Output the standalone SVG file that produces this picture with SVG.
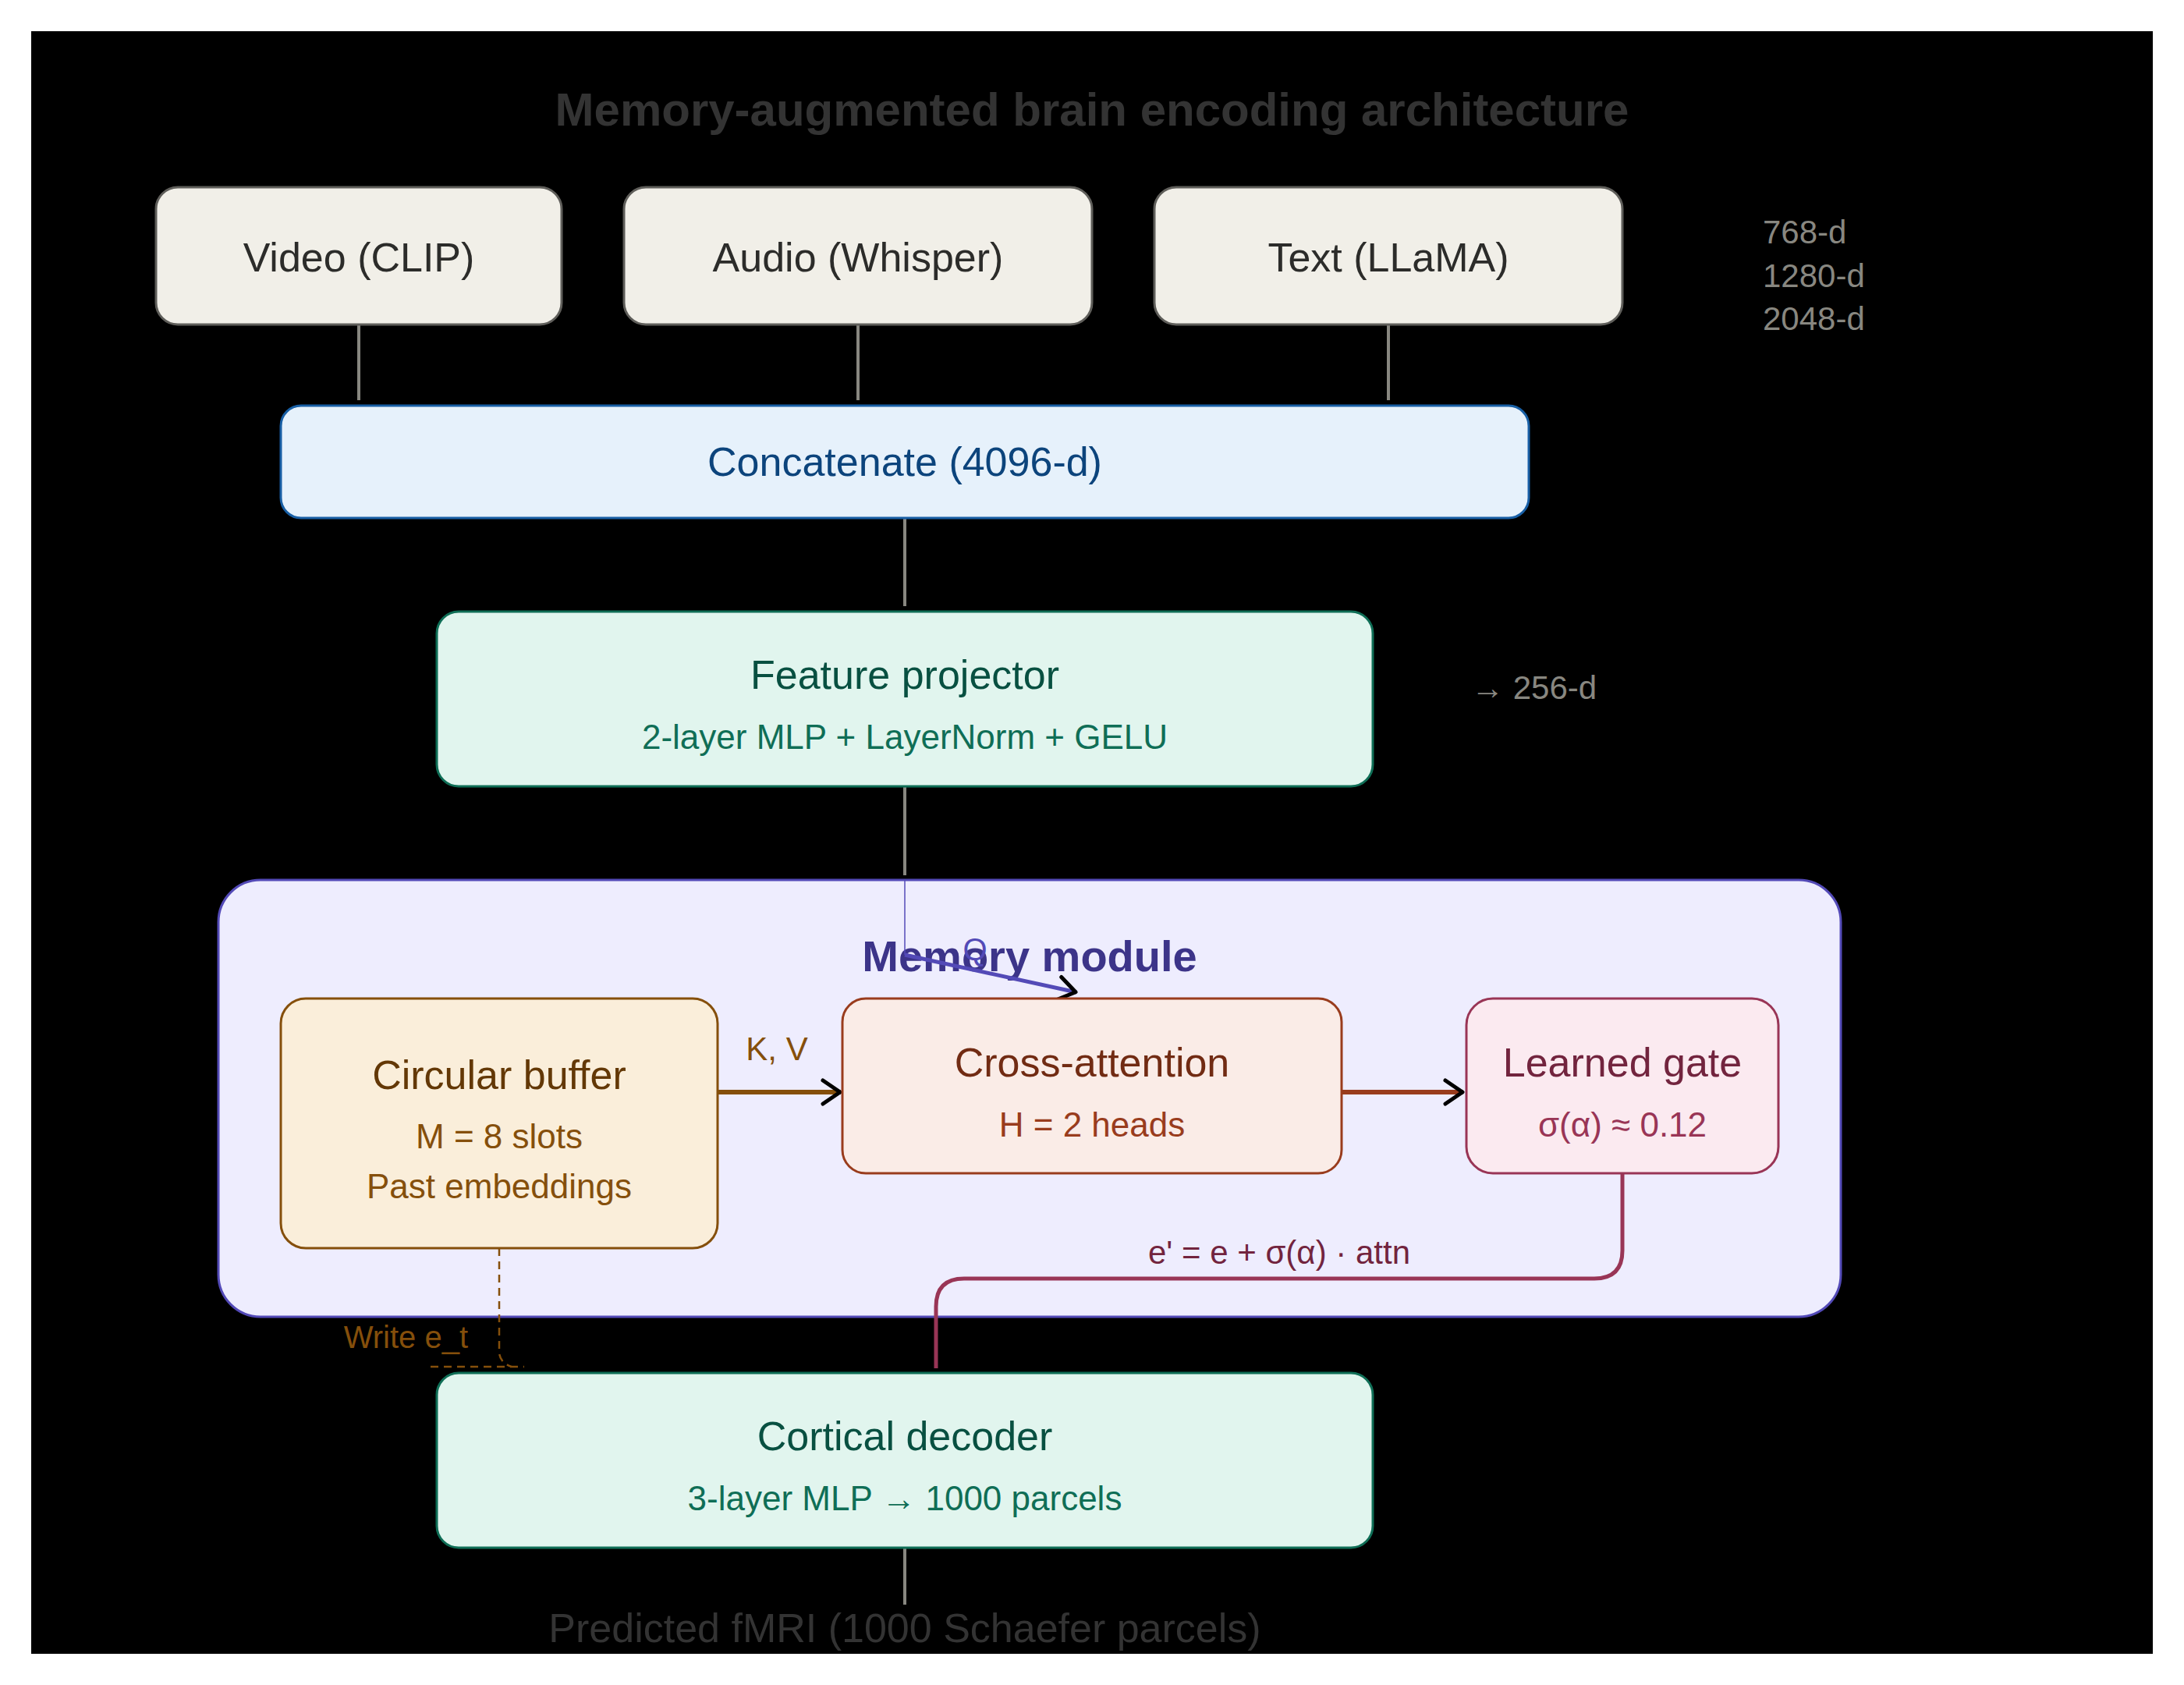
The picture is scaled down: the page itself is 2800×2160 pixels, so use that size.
<svg xmlns="http://www.w3.org/2000/svg" width="2800" height="2160" viewBox="0 0 2800 2160">
<style>
text{font-family:"Liberation Sans",Arial,sans-serif;}
.t52{font-size:52px;text-anchor:middle;}
.t44{font-size:44px;text-anchor:middle;}
.side{font-size:42px;fill:#888780;}
.in rect{fill:#f1efe8;stroke:#5f5e5a;stroke-width:3;}
.in text{fill:#2c2c2a;}
.teal rect{fill:#e1f5ee;stroke:#0f6e56;stroke-width:3;}
.gray{stroke:#888780;stroke-width:4;fill:none;}
</style>
<defs>
<marker id="chevbig" viewBox="0 0 28 36" refX="26" refY="18" markerWidth="28" markerHeight="36" markerUnits="userSpaceOnUse" orient="auto">
<path d="M3,3 L25,18 L3,33" fill="none" stroke="#000" stroke-width="5" stroke-linecap="round" stroke-linejoin="round"/>
</marker>
</defs>
<rect x="0" y="0" width="2800" height="2160" fill="#fff"/>
<rect x="40" y="40" width="2720" height="2080" fill="#000"/>
<text x="1400" y="161" font-size="60" font-weight="bold" text-anchor="middle" fill="#333">Memory-augmented brain encoding architecture</text>

<g id="memory-module">
<rect x="280" y="1128" width="2080" height="560" rx="54" fill="#eeedfe" stroke="#534ab7" stroke-width="3"/>
<text x="1320" y="1245" font-size="56" font-weight="bold" text-anchor="middle" fill="#3c3489">Memory module</text>
</g>

<g id="connectors">
<line class="gray" x1="460" y1="416" x2="460" y2="513"/>
<line class="gray" x1="1100" y1="416" x2="1100" y2="513"/>
<line class="gray" x1="1780" y1="416" x2="1780" y2="513"/>
<line class="gray" x1="1160" y1="664" x2="1160" y2="777"/>
<line class="gray" x1="1160" y1="1008" x2="1160" y2="1122"/>
<line class="gray" x1="1160" y1="1984" x2="1160" y2="2057"/>
<line x1="1160" y1="1128" x2="1160" y2="1224" stroke="#534ab7" stroke-width="1.5"/>
<line x1="1160" y1="1224" x2="1380" y2="1272" stroke="#534ab7" stroke-width="5" marker-end="url(#chevbig)"/>
<text x="1250" y="1231" font-size="40" text-anchor="middle" fill="#534ab7">Q</text>
<line x1="920" y1="1400" x2="1078" y2="1400" stroke="#854f0b" stroke-width="6" marker-end="url(#chevbig)"/>
<text x="996" y="1359" font-size="42" text-anchor="middle" fill="#854f0b">K, V</text>
<line x1="1720" y1="1400" x2="1876" y2="1400" stroke="#993c1d" stroke-width="6" marker-end="url(#chevbig)"/>
<path d="M2080,1504 V1603 Q2080,1639 2044,1639 H1236 Q1200,1639 1200,1675 V1754" fill="none" stroke="#993556" stroke-width="5"/>
<text x="1640" y="1620" font-size="42" text-anchor="middle" fill="#72243e">e' = e + σ(α) · attn</text>
<path d="M640,1600 V1734 Q641,1747 656,1752 M552,1752 H672" fill="none" stroke="#854f0b" stroke-width="2.5" stroke-dasharray="10,7"/>
<text x="600" y="1728" font-size="40" text-anchor="end" fill="#854f0b">Write e_t</text>
</g>

<g id="video" class="in">
<rect x="200" y="240" width="520" height="176" rx="28"/>
<text class="t52" x="460" y="348">Video (CLIP)</text>
</g>
<g id="audio" class="in">
<rect x="800" y="240" width="600" height="176" rx="28"/>
<text class="t52" x="1100" y="348">Audio (Whisper)</text>
</g>
<g id="text" class="in">
<rect x="1480" y="240" width="600" height="176" rx="28"/>
<text class="t52" x="1780" y="348">Text (LLaMA)</text>
</g>
<g id="dims">
<text class="side" x="2260" y="312">768-d</text>
<text class="side" x="2260" y="368">1280-d</text>
<text class="side" x="2260" y="423">2048-d</text>
</g>

<g id="concatenate">
<rect x="360" y="520" width="1600" height="144" rx="26" fill="#e6f1fb" stroke="#185fa5" stroke-width="3"/>
<text class="t52" x="1160" y="610" fill="#0c447c">Concatenate (4096-d)</text>
</g>

<g id="feature-projector" class="teal">
<rect x="560" y="784" width="1200" height="224" rx="28"/>
<text class="t52" x="1160" y="883" fill="#085041">Feature projector</text>
<text class="t44" x="1160" y="960" fill="#0f6e56">2-layer MLP + LayerNorm + GELU</text>
</g>
<text class="side" x="1886" y="896">→ 256-d</text>

<g id="circular-buffer">
<rect x="360" y="1280" width="560" height="320" rx="32" fill="#faeeda" stroke="#854f0b" stroke-width="3"/>
<text class="t52" x="640" y="1396" fill="#633806">Circular buffer</text>
<text class="t44" x="640" y="1472" fill="#854f0b">M = 8 slots</text>
<text class="t44" x="640" y="1536" fill="#854f0b">Past embeddings</text>
</g>

<g id="cross-attention">
<rect x="1080" y="1280" width="640" height="224" rx="30" fill="#faece7" stroke="#993c1d" stroke-width="3"/>
<text class="t52" x="1400" y="1380" fill="#712b13">Cross-attention</text>
<text class="t44" x="1400" y="1457" fill="#993c1d">H = 2 heads</text>
</g>

<g id="learned-gate">
<rect x="1880" y="1280" width="400" height="224" rx="34" fill="#fbeaf0" stroke="#993556" stroke-width="3"/>
<text class="t52" x="2080" y="1380" fill="#72243e">Learned gate</text>
<text class="t44" x="2080" y="1457" fill="#993556">σ(α) ≈ 0.12</text>
</g>

<g id="cortical-decoder" class="teal">
<rect x="560" y="1760" width="1200" height="224" rx="28"/>
<text class="t52" x="1160" y="1859" fill="#085041">Cortical decoder</text>
<text class="t44" x="1160" y="1936" fill="#0f6e56">3-layer MLP → 1000 parcels</text>
</g>

<g id="output">
<text class="t52" x="1160" y="2105" fill="#333">Predicted fMRI (1000 Schaefer parcels)</text>
</g>
</svg>
